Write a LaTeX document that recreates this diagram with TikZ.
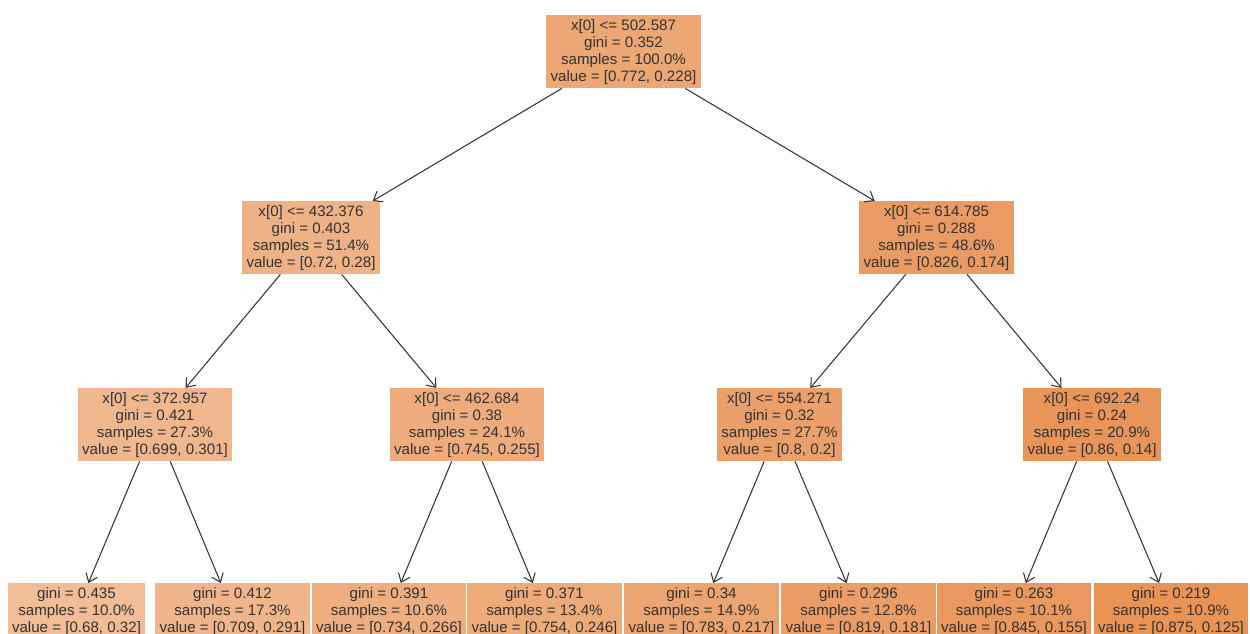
\documentclass[tikz,border=0pt]{standalone}
\usepackage{fontspec}
\setmainfont{Liberation Sans}
\usetikzlibrary{arrows.meta}
\definecolor{leaf}{HTML}{E58139}
\definecolor{ink}{HTML}{333333}

\begin{document}
\begin{tikzpicture}[x=0.02cm, y=-0.02cm,
  treebox/.style={fill=#1, text=ink, align=center, anchor=north,
    inner xsep=0.09cm, inner ysep=0.075cm,
    font=\fontsize{8.6}{9.7}\selectfont},
  link/.style={draw=ink, line width=0.6pt, -{Straight Barb[length=4.5pt,width=7pt]}}]
  \clip (0,0) rectangle (1250,634);
  % splits
  \node[treebox=leaf!70!white] (root) at (623.5,15) {x[0] <= 502.587\\gini = 0.352\\samples = 100.0\%\\value = [0.772, 0.228]};
  \node[treebox=leaf!61!white] (lft) at (311,201) {x[0] <= 432.376\\gini = 0.403\\samples = 51.4\%\\value = [0.72, 0.28]};
  \node[treebox=leaf!79!white] (rgt) at (936.5,201) {x[0] <= 614.785\\gini = 0.288\\samples = 48.6\%\\value = [0.826, 0.174]};
  \node[treebox=leaf!57!white] (ll) at (155,388) {x[0] <= 372.957\\gini = 0.421\\samples = 27.3\%\\value = [0.699, 0.301]};
  \node[treebox=leaf!66!white] (lr) at (467,388) {x[0] <= 462.684\\gini = 0.38\\samples = 24.1\%\\value = [0.745, 0.255]};
  \node[treebox=leaf!75!white] (rl) at (779.5,388) {x[0] <= 554.271\\gini = 0.32\\samples = 27.7\%\\value = [0.8, 0.2]};
  \node[treebox=leaf!84!white] (rr) at (1092,388) {x[0] <= 692.24\\gini = 0.24\\samples = 20.9\%\\value = [0.86, 0.14]};
  % leaves
  \node[treebox=leaf!53!white] (lll) at (76.5,583) {gini = 0.435\\samples = 10.0\%\\value = [0.68, 0.32]};
  \node[treebox=leaf!59!white] (llr) at (232.5,583) {gini = 0.412\\samples = 17.3\%\\value = [0.709, 0.291]};
  \node[treebox=leaf!64!white] (lrl) at (389,583) {gini = 0.391\\samples = 10.6\%\\value = [0.734, 0.266]};
  \node[treebox=leaf!67!white] (lrr) at (544.5,583) {gini = 0.371\\samples = 13.4\%\\value = [0.754, 0.246]};
  \node[treebox=leaf!72!white] (rll) at (701.5,583) {gini = 0.34\\samples = 14.9\%\\value = [0.783, 0.217]};
  \node[treebox=leaf!78!white] (rlr) at (858.5,583) {gini = 0.296\\samples = 12.8\%\\value = [0.819, 0.181]};
  \node[treebox=leaf!82!white] (rrl) at (1014,583) {gini = 0.263\\samples = 10.1\%\\value = [0.845, 0.155]};
  \node[treebox=leaf!86!white] (rrr) at (1171,583) {gini = 0.219\\samples = 10.9\%\\value = [0.875, 0.125]};
  % edges
  \draw[link] (root) -- (lft);
  \draw[link] (root) -- (rgt);
  \draw[link] (lft) -- (ll);
  \draw[link] (lft) -- (lr);
  \draw[link] (rgt) -- (rl);
  \draw[link] (rgt) -- (rr);
  \draw[link] (ll) -- (lll);
  \draw[link] (ll) -- (llr);
  \draw[link] (lr) -- (lrl);
  \draw[link] (lr) -- (lrr);
  \draw[link] (rl) -- (rll);
  \draw[link] (rl) -- (rlr);
  \draw[link] (rr) -- (rrl);
  \draw[link] (rr) -- (rrr);
\end{tikzpicture}
\end{document}
